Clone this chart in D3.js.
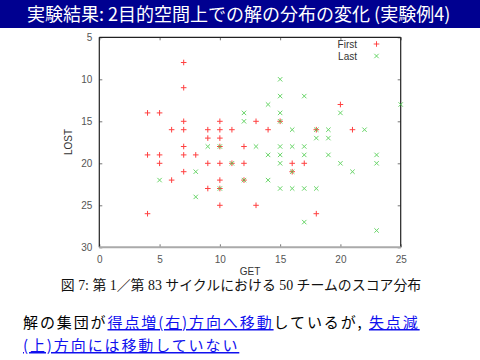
<!DOCTYPE html>
<html><head><meta charset="utf-8">
<script src="https://cdn.jsdelivr.net/npm/d3@7"></script>
<style>
html,body{margin:0;padding:0;background:#fff;}
svg{display:block;}
</style></head>
<body>
<script>
const titleText = "実験結果: 2目的空間上での解の分布の変化 (実験例4)";
const captionText = "図 7: 第 1／第 83 サイクルにおける 50 チームのスコア分布";
const seriesNames = ["First", "Last"];
const xTicks = [0, 5, 10, 15, 20, 25];
const yTicks = [5, 10, 15, 20, 25, 30];
// [GET, LOST]
const firstPoints = [
  [7,8],[7,11],[4,14],[5,14],[7,15],[10,15],[6,16],[7,16],[9,16],[10,16],[11,16],
  [9,17],[10,17],[7,18],[10,18],[4,19],[5,19],[7,19],[8,19],[5,20],[9,20],[10,20],
  [11,20],[7,21],[6,22],[10,22],[9,23],[10,23],[10,25],[4,26],[20,13],[13,15],[15,15],
  [14,16],[18,16],[21,16],[12,18],[12,20],[16,20],[17,20],[16,21],[12,22],[13,25],[18,26]
];
const lastPoints = [
  [9,18],[10,18],[11,20],[8,21],[5,22],[10,23],[8,24],[15,10],[15,12],[17,12],[14,13],
  [25,13],[12,14],[15,14],[20,14],[12,15],[15,15],[16,16],[18,16],[19,16],[22,16],
  [18,17],[19,17],[13,18],[15,18],[16,18],[17,18],[14,19],[15,19],[17,19],[19,19],
  [23,19],[15,20],[20,20],[23,20],[16,21],[21,21],[12,22],[14,22],[15,23],[16,23],
  [17,23],[18,23],[17,27],[23,28]
];
const line1 = [
  {t:"解の集団が", link:false},
  {t:"得点増(右)方向へ移動", link:true},
  {t:"しているが, ", link:false},
  {t:"失点減", link:true}
];
const line2 = [{t:"(上)方向には移動していない", link:true}];

const W = 480, H = 360;
const svg = d3.select("body").append("svg").attr("width", W).attr("height", H);
svg.append("rect").attr("width", W).attr("height", H).attr("fill", "#fff");

// title bar
svg.append("rect").attr("x",0).attr("y",0).attr("width",W).attr("height",28).attr("fill","#000090");
svg.append("text").attr("x",27).attr("y",20.5)
  .attr("font-family","'Noto Sans CJK JP', sans-serif").attr("font-size",18)
  .attr("fill","#fff").text(titleText);

const L = 99.3, R = 400.7, T = 37.3, B = 247.3;
const x = d3.scaleLinear().domain([0,25]).range([L,R]);
const y = d3.scaleLinear().domain([5,30]).range([T,B]);

const tickFont = "'Liberation Sans', Arial, sans-serif";
// axes
const gx = svg.append("g").attr("transform",`translate(0,${B})`)
  .call(d3.axisBottom(x).tickValues(xTicks).tickSize(-3).tickPadding(9).tickFormat(d3.format("d")));
const gy = svg.append("g").attr("transform",`translate(${L},0)`)
  .call(d3.axisLeft(y).tickValues(yTicks).tickSize(-3).tickPadding(7).tickFormat(d3.format("d")));
const gxt = svg.append("g").attr("transform",`translate(0,${T})`)
  .call(d3.axisTop(x).tickValues(xTicks).tickSize(-3).tickFormat(""));
const gyr = svg.append("g").attr("transform",`translate(${R},0)`)
  .call(d3.axisRight(y).tickValues(yTicks).tickSize(-3).tickFormat(""));
[gx,gy,gxt,gyr].forEach(g=>{
  g.select(".domain").remove();
  g.selectAll(".tick line").attr("stroke","#777");
  g.selectAll(".tick text").attr("font-family",tickFont).attr("font-size",10).attr("fill","#555");
});
// frame
svg.append("line").attr("x1",L).attr("x2",L).attr("y1",T).attr("y2",B).attr("stroke","#222").attr("stroke-width",1.2);
svg.append("line").attr("x1",L).attr("x2",R).attr("y1",T).attr("y2",T).attr("stroke","#222").attr("stroke-width",1.2);
svg.append("line").attr("x1",R).attr("x2",R).attr("y1",T).attr("y2",B).attr("stroke","#222").attr("stroke-width",1.2);
svg.append("line").attr("x1",L).attr("x2",R).attr("y1",B).attr("y2",B).attr("stroke","#aaa").attr("stroke-width",2);

// axis labels
svg.append("text").attr("x",250).attr("y",275).attr("text-anchor","middle")
  .attr("font-family",tickFont).attr("font-size",10).attr("fill","#333").text("GET");
svg.append("text").attr("transform","translate(72,142) rotate(-90)").attr("text-anchor","middle")
  .attr("font-family",tickFont).attr("font-size",10).attr("fill","#333").text("LOST");

function plus(g, cx, cy, s){
  g.append("path").attr("d",`M${cx-s},${cy}H${cx+s}M${cx},${cy-s}V${cy+s}`);
}
function cross(g, cx, cy, s){
  g.append("path").attr("d",`M${cx-s},${cy-s}L${cx+s},${cy+s}M${cx-s},${cy+s}L${cx+s},${cy-s}`);
}
const gF = svg.append("g").attr("stroke","#ff2020").attr("stroke-width",1).attr("fill","none").attr("opacity",0.85);
firstPoints.forEach(d=>plus(gF, x(d[0]), y(d[1]), 2.8));
const gL = svg.append("g").attr("stroke","#44cc44").attr("stroke-width",1).attr("fill","none").attr("opacity",0.8);
lastPoints.forEach(d=>cross(gL, x(d[0]), y(d[1]), 2.2));

// legend
const lg = svg.append("g");
seriesNames.forEach((n,i)=>{
  const ly = 44 + i*12;
  lg.append("text").attr("x",357).attr("y",ly+3.5).attr("text-anchor","end")
    .attr("font-family",tickFont).attr("font-size",10).attr("fill","#333").text(n);
  const gg = lg.append("g").attr("fill","none").attr("stroke-width",1)
    .attr("stroke", i===0 ? "#ff2020" : "#44cc44").attr("opacity",0.8);
  if(i===0) plus(gg, 376.5, ly, 2.8); else cross(gg, 376.5, ly, 2.2);
});

// caption
svg.append("text").attr("x",241).attr("y",290).attr("text-anchor","middle")
  .attr("font-family","'Liberation Serif', 'Noto Sans CJK JP', serif").attr("font-size",13.9)
  .attr("fill","#111").text(captionText);

// bottom text
function drawLine(parts, yy){
  const t = svg.append("text").attr("x",23).attr("y",yy)
    .attr("font-family","'Noto Sans CJK JP', sans-serif").attr("font-size",15)
    .attr("letter-spacing",1.9);
  parts.forEach(p=>{
    t.append("tspan").attr("fill", p.link ? "#1010ee" : "#000")
      .attr("text-decoration", p.link ? "underline" : null).text(p.t);
  });
}
drawLine(line1, 328);
drawLine(line2, 351);
</script>
</body></html>
